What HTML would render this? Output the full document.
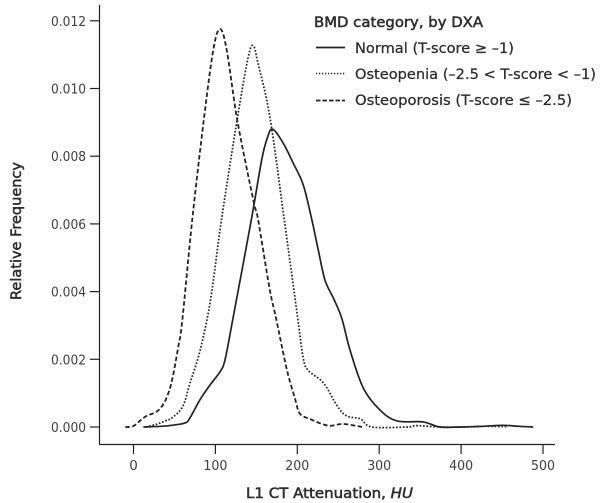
<!DOCTYPE html>
<html>
<head>
<meta charset="utf-8">
<title>Relative frequency of L1 CT attenuation by BMD category</title>
<style>
html,body{margin:0;padding:0;background:#fff;width:600px;height:503px;overflow:hidden}
svg{display:block}
text{font-family:"DejaVu Sans","Liberation Sans",sans-serif;fill:#2c2c2c}
.tick{font-size:13.5px;fill:#3f3f3f}
.legend{font-size:14.5px;stroke:#2c2c2c;stroke-width:.25px}
.title{font-size:14.5px;stroke:#2c2c2c;stroke-width:.5px}
</style>
</head>
<body>
<svg id="chart" xmlns="http://www.w3.org/2000/svg" width="600" height="503" viewBox="0 0 600 503"></svg>
<script>
var xTicks = [0, 100, 200, 300, 400, 500];
var yTicks = [0, 0.002, 0.004, 0.006, 0.008, 0.010, 0.012];
var yTickLabels = ['0.000', '0.002', '0.004', '0.006', '0.008', '0.010', '0.012'];

var normalHU = [12, 33.6, 47, 63, 69, 81, 93.4, 105.6, 111.7, 121.1, 144, 156.5, 163.4, 170, 182.9, 195.1, 207.3, 217.6, 225.6, 233.8, 244, 254.2, 264.4, 280.6, 301, 321.7, 353.5, 374, 400, 427, 451, 470, 488];
var normalFreq = [0, 0.00002, 0.00005, 0.00012, 0.00027, 0.0008, 0.00124, 0.00163, 0.00198, 0.00316, 0.00614, 0.00789, 0.00854, 0.0088, 0.00838, 0.00779, 0.00715, 0.00614, 0.00523, 0.00434, 0.00381, 0.00322, 0.00227, 0.00115, 0.0005, 0.00018, 0.00015, 0, 0, 0.00002, 0.00005, 0.00002, 0];

var osteopeniaHU = [15, 28, 41, 47, 60, 69, 81.2, 94, 107.4, 127.1, 140.2, 146.3, 152, 166.7, 184.1, 200.5, 207, 213, 232, 248, 260, 277, 291, 334, 346, 374, 400, 427, 456];
var osteopeniaFreq = [0, 0.00008, 0.0002, 0.00027, 0.0006, 0.0013, 0.00225, 0.00375, 0.00612, 0.00916, 0.01094, 0.01126, 0.01075, 0.00913, 0.00612, 0.00322, 0.00207, 0.00168, 0.0013, 0.00065, 0.00033, 0.00024, 0, 0, 0.00004, 0, 0, 0.00002, 0.00001];

var osteoporosisHU = [-10, 0, 14, 32, 44.6, 54.7, 59.6, 71.8, 86, 97.4, 105.6, 113.8, 126.7, 146.3, 152, 166, 174, 187.4, 197, 203, 215, 237.6, 256, 279];
var osteoporosisFreq = [0, 0.00003, 0.0003, 0.00053, 0.00115, 0.00237, 0.00316, 0.00614, 0.0091, 0.01114, 0.01176, 0.01114, 0.00907, 0.0067, 0.00614, 0.00411, 0.00322, 0.00168, 0.00086, 0.0004, 0.00024, 0.00004, 0.00009, 0];

var svg = document.getElementById('chart');
var NS = 'http://www.w3.org/2000/svg';
function xScale(v) { return 133.5 + v * 0.819; }
function yScale(v) { return 427 - v * 33850; }

function make(tag, attrs, parent) {
  var el = document.createElementNS(NS, tag);
  for (var k in attrs) el.setAttribute(k, attrs[k]);
  (parent || svg).appendChild(el);
  return el;
}
function smoothPath(xs, ys) {
  var p = xs.map(function (x, i) { return [xScale(x), yScale(ys[i])]; });
  var d = 'M' + p[0][0].toFixed(2) + ' ' + p[0][1].toFixed(2);
  for (var i = 0; i < p.length - 1; i++) {
    var a = p[Math.max(i - 1, 0)], b = p[i], c = p[i + 1], e = p[Math.min(i + 2, p.length - 1)];
    d += 'C' + (b[0] + (c[0] - a[0]) / 6).toFixed(2) + ' ' + (b[1] + (c[1] - a[1]) / 6).toFixed(2) + ' ' +
      (c[0] - (e[0] - b[0]) / 6).toFixed(2) + ' ' + (c[1] - (e[1] - b[1]) / 6).toFixed(2) + ' ' +
      c[0].toFixed(2) + ' ' + c[1].toFixed(2);
  }
  return d;
}

var axisStyle = {stroke: '#222', 'stroke-width': 1.2, fill: 'none'};
var yAxis = make('path', Object.assign({d: 'M99.5 5V444'}, axisStyle));


var xAxis = make('path', Object.assign({d: 'M99 444.5H555'}, axisStyle));



yTicks.forEach(function (v, i) {
  var y = yScale(v);
  var tick = make('line', Object.assign({x1: 90, x2: 99.5, y1: y, y2: y}, axisStyle));
  
  
  var label = make('text', {x: 51, y: y + 5, textLength: 35, lengthAdjust: 'spacingAndGlyphs', 'class': 'tick'});
  label.textContent = yTickLabels[i];
  
  
});
xTicks.forEach(function (v) {
  var x = xScale(v);
  var tick = make('line', Object.assign({x1: x, x2: x, y1: 444.5, y2: 454}, axisStyle));
  
  
  var label = make('text', {x: x, y: 470, 'text-anchor': 'middle', 'class': 'tick'});
  label.textContent = String(v);
  if (String(v).length > 1) {
    label.setAttribute('textLength', 24);
    label.setAttribute('lengthAdjust', 'spacingAndGlyphs');
  }
  
  
});

var normalLine = make('path', {d: smoothPath(normalHU, normalFreq), fill: 'none', stroke: '#222', 'stroke-width': 1.7});


var osteopeniaLine = make('path', {d: smoothPath(osteopeniaHU, osteopeniaFreq), fill: 'none', stroke: '#222', 'stroke-width': 1.7, 'stroke-dasharray': '1.7 1.7'});


var osteoporosisLine = make('path', {d: smoothPath(osteoporosisHU, osteoporosisFreq), fill: 'none', stroke: '#222', 'stroke-width': 1.8, 'stroke-dasharray': '4.5 2.5'});


</script>
<svg xmlns="http://www.w3.org/2000/svg" width="600" height="503" viewBox="0 0 600 503" style="position:absolute;left:0;top:0">
  <text class="title" x="314" y="27" textLength="169" lengthAdjust="spacingAndGlyphs">BMD category, by DXA</text>
  <line x1="316" x2="345" y1="47.5" y2="47.5" stroke="#222" stroke-width="1.8"/>
  <text class="legend" x="355" y="53" textLength="159" lengthAdjust="spacingAndGlyphs">Normal (T-score ≥ –1)</text>
  <line x1="316" x2="345" y1="73.5" y2="73.5" stroke="#222" stroke-width="1.5" stroke-dasharray="1.3 1.7"/>
  <text class="legend" x="355" y="79" textLength="241" lengthAdjust="spacingAndGlyphs">Osteopenia (–2.5 &lt; T-score &lt; –1)</text>
  <line x1="316" x2="345" y1="100.5" y2="100.5" stroke="#222" stroke-width="1.8" stroke-dasharray="4.5 2"/>
  <text class="legend" x="355" y="105" textLength="217" lengthAdjust="spacingAndGlyphs">Osteoporosis (T-score ≤ –2.5)</text>
  <text class="title" x="246" y="498" textLength="167" lengthAdjust="spacingAndGlyphs">L1 CT Attenuation, <tspan font-style="italic">HU</tspan></text>
  <text class="title" transform="translate(21,300) rotate(-90)" textLength="138" lengthAdjust="spacingAndGlyphs">Relative Frequency</text>
</svg>
</body>
</html>
